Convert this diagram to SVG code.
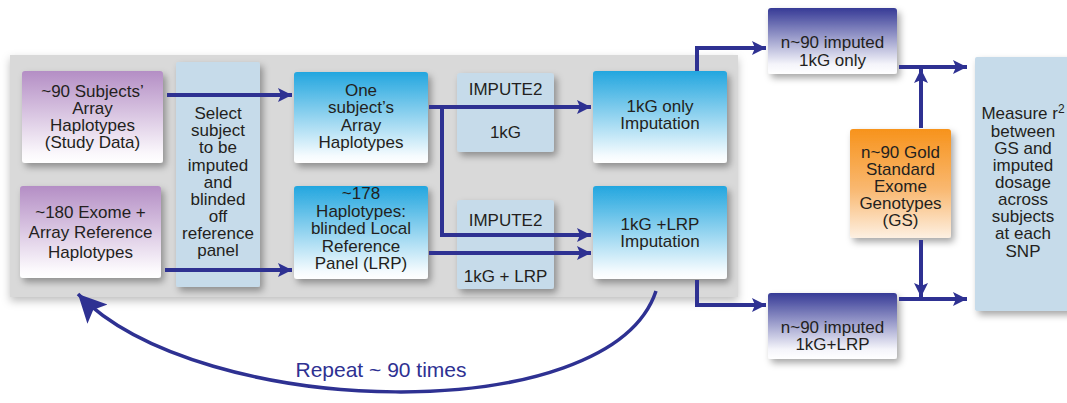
<svg xmlns="http://www.w3.org/2000/svg" width="1067" height="403" viewBox="0 0 1067 403">
<defs>
<linearGradient id="gPurple" x1="0" y1="0" x2="0" y2="1"><stop offset="0" stop-color="#b48ec5"/><stop offset="0.9" stop-color="#fbf8fc"/><stop offset="1" stop-color="#ffffff"/></linearGradient>
<linearGradient id="gBlue" x1="0" y1="0" x2="0" y2="1"><stop offset="0" stop-color="#22a6df"/><stop offset="0.92" stop-color="#f5fbfe"/><stop offset="1" stop-color="#ffffff"/></linearGradient>
<linearGradient id="gNavy" x1="0" y1="0" x2="0" y2="1"><stop offset="0" stop-color="#363a96"/><stop offset="0.85" stop-color="#f4f4fa"/><stop offset="1" stop-color="#ffffff"/></linearGradient>
<linearGradient id="gOrange" x1="0" y1="0" x2="0" y2="1"><stop offset="0" stop-color="#f7931c"/><stop offset="0.55" stop-color="#f9b870"/><stop offset="1" stop-color="#fdf0e2"/></linearGradient>
<filter id="sh" x="-20%" y="-20%" width="150%" height="150%"><feDropShadow dx="3" dy="4" stdDeviation="3.5" flood-color="#000" flood-opacity="0.35"/></filter>
<filter id="shBg" x="-5%" y="-10%" width="110%" height="125%"><feDropShadow dx="0" dy="4" stdDeviation="4" flood-color="#000" flood-opacity="0.25"/></filter>
<marker id="ah" viewBox="0 0 14 14" refX="14" refY="7" markerWidth="14" markerHeight="14" markerUnits="userSpaceOnUse" orient="auto"><path d="M0,0 L14,7 L0,14 L3,7 Z" fill="#2e3192"/></marker>
<marker id="ahBig" viewBox="0 0 30 30" refX="28" refY="15" markerWidth="30" markerHeight="30" markerUnits="userSpaceOnUse" orient="auto"><path d="M0,1 L28,15 L0,29 L6,15 Z" fill="#2e3192"/></marker>
</defs>
<style>
.t{font-family:"Liberation Sans",Arial,sans-serif;font-size:17px;fill:#231f20;text-anchor:middle}
.rep{font-family:"Liberation Sans",Arial,sans-serif;font-size:21px;fill:#2e3192;text-anchor:middle}
.con{fill:none;stroke:#2e3192;stroke-width:4;marker-end:url(#ah)}
.lb{fill:#c6dbea}
.box{filter:url(#sh)}
</style>

<rect id="panel" x="10" y="55" width="728" height="242" fill="#d9d9d9" filter="url(#shBg)"/>

<g id="n-subjects"><rect class="box" x="22" y="71" width="141" height="92" rx="3" fill="url(#gPurple)"/>
<text class="t" x="92.5" y="97">~90 Subjects’</text><text class="t" x="92.5" y="114">Array</text><text class="t" x="92.5" y="131">Haplotypes</text><text class="t" x="92.5" y="148">(Study Data)</text></g>

<g id="n-exome"><rect class="box" x="20" y="186" width="141" height="92" rx="3" fill="url(#gPurple)"/>
<text class="t" x="90.5" y="218">~180 Exome +</text><text class="t" x="90.5" y="238">Array Reference</text><text class="t" x="90.5" y="258">Haplotypes</text></g>

<g id="n-select"><rect class="box lb" x="176" y="62" width="84" height="225" rx="2"/>
<text class="t" x="218" y="119">Select</text><text class="t" x="218" y="136">subject</text><text class="t" x="218" y="153">to be</text><text class="t" x="218" y="171">imputed</text><text class="t" x="218" y="188">and</text><text class="t" x="218" y="205">blinded</text><text class="t" x="218" y="222">off</text><text class="t" x="218" y="239">reference</text><text class="t" x="218" y="256">panel</text></g>

<g id="n-one"><rect class="box" x="294" y="72" width="134" height="91" rx="3" fill="url(#gBlue)"/>
<text class="t" x="361" y="96">One</text><text class="t" x="361" y="113">subject’s</text><text class="t" x="361" y="131">Array</text><text class="t" x="361" y="148">Haplotypes</text></g>

<g id="n-lrp"><rect class="box" x="294" y="186" width="134" height="93" rx="3" fill="url(#gBlue)"/>
<text class="t" x="361" y="199">~178</text><text class="t" x="361" y="217">Haplotypes:</text><text class="t" x="361" y="234">blinded Local</text><text class="t" x="361" y="252">Reference</text><text class="t" x="361" y="269">Panel (LRP)</text></g>

<g id="n-imp1"><rect class="box lb" x="457" y="73" width="97" height="79" rx="3"/>
<text class="t" x="505.5" y="95">IMPUTE2</text><text class="t" x="505.5" y="138">1kG</text></g>

<g id="n-imp2"><rect class="box lb" x="457" y="200" width="97" height="89" rx="3"/>
<text class="t" x="505.5" y="226">IMPUTE2</text><text class="t" x="505.5" y="282">1kG + LRP</text></g>

<g id="n-1kg"><rect class="box" x="593" y="71" width="134" height="92" rx="3" fill="url(#gBlue)"/>
<text class="t" x="660" y="112">1kG only</text><text class="t" x="660" y="129">Imputation</text></g>

<g id="n-1kglrp"><rect class="box" x="593" y="186" width="134" height="93" rx="3" fill="url(#gBlue)"/>
<text class="t" x="660" y="230">1kG +LRP</text><text class="t" x="660" y="247">Imputation</text></g>

<g id="n-out1"><rect class="box" x="768" y="8" width="129" height="66" rx="3" fill="url(#gNavy)"/>
<text class="t" x="832.5" y="48">n~90 imputed</text><text class="t" x="832.5" y="66">1kG only</text></g>

<g id="n-out2"><rect class="box" x="768" y="293" width="129" height="66" rx="3" fill="url(#gNavy)"/>
<text class="t" x="832.5" y="333">n~90 imputed</text><text class="t" x="832.5" y="350">1kG+LRP</text></g>

<g id="n-gold"><rect class="box" x="850" y="129" width="101" height="109" rx="3" fill="url(#gOrange)"/>
<text class="t" x="900.5" y="158">n~90 Gold</text><text class="t" x="900.5" y="175">Standard</text><text class="t" x="900.5" y="192">Exome</text><text class="t" x="900.5" y="209">Genotypes</text><text class="t" x="900.5" y="226">(GS)</text></g>

<g id="n-measure"><rect class="box lb" x="975" y="57" width="100" height="254" rx="2"/>
<text class="t" x="1023" y="119">Measure r<tspan font-size="12" dy="-6">2</tspan></text><text class="t" x="1023" y="137">between</text><text class="t" x="1023" y="154">GS and</text><text class="t" x="1023" y="171">imputed</text><text class="t" x="1023" y="188">dosage</text><text class="t" x="1023" y="205">across</text><text class="t" x="1023" y="222">subjects</text><text class="t" x="1023" y="239">at each</text><text class="t" x="1023" y="257">SNP</text></g>

<g id="connectors">
<path class="con" d="M167,95 H292"/>
<path class="con" d="M165,270 H292"/>
<path class="con" d="M429,107 H591"/>
<path class="con" d="M442,107 V235 H591"/>
<path class="con" d="M429,253 H591"/>
<path class="con" d="M697,71 V48 H766"/>
<path class="con" d="M697,280 V305 H766"/>
<path class="con" d="M899,67 H967"/>
<path class="con" d="M921,128 V69"/>
<path class="con" d="M921,240 V297"/>
<path class="con" d="M899,299 H967"/>
<path d="M656,291 C610,430 200,420 78,294" fill="none" stroke="#2e3192" stroke-width="3.5" marker-end="url(#ahBig)"/>
</g>
<text class="rep" x="381" y="377">Repeat ~ 90 times</text>
</svg>
